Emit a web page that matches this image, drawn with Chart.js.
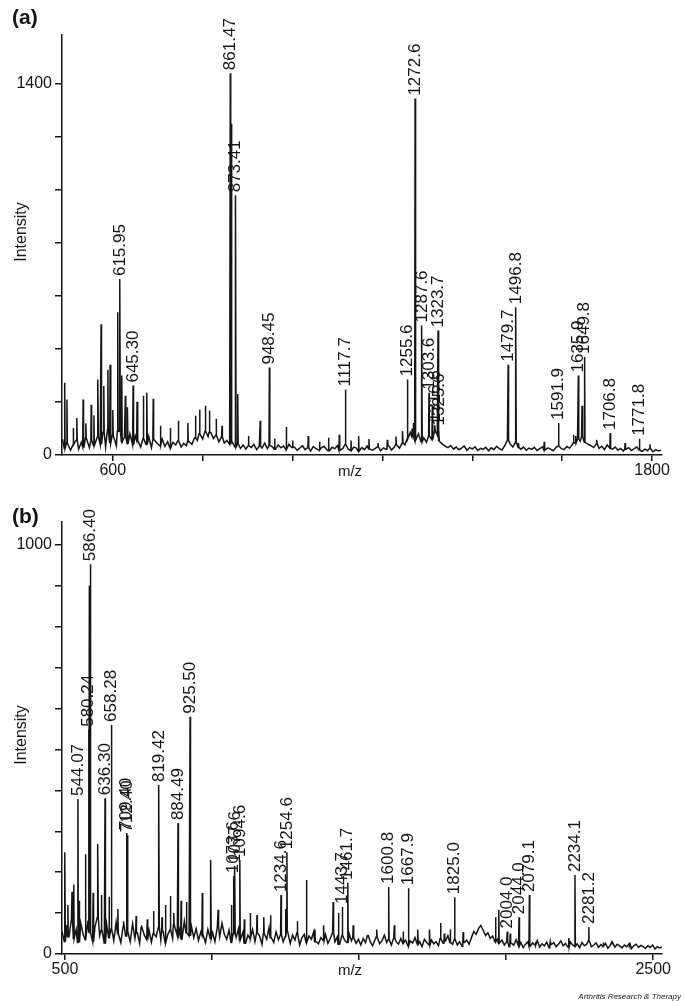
<!DOCTYPE html>
<html>
<head>
<meta charset="utf-8">
<script src="https://cdn.jsdelivr.net/npm/chart.js@4.4.1/dist/chart.umd.min.js"></script>
<style>
  body { margin: 0; background: #fff; }
  canvas { display: block; }
</style>
</head>
<body>
<canvas id="chartA" width="685" height="490"></canvas>
<canvas id="chartB" width="685" height="512"></canvas>
<script>
const FONT = '"Liberation Sans", Arial, sans-serif';
const INK = '#151515';

// ---- panel (a) ----
const noiseStartA = 488, noiseStepA = 6;
const noiseA = [
  60, 25, 45, 18, 38, 55, 22, 48, 30, 65, 28, 52, 35,
  70, 40, 85, 30, 95, 45, 75, 35, 90, 50, 68, 42, 80, 38, 72,
  55, 30, 62, 40, 70, 28, 58, 45, 36, 60, 32, 50, 26, 48, 38, 55, 30, 44, 35,
  50, 40, 65, 55, 80, 60, 90, 70, 85, 62, 75, 50, 68, 45, 55, 40,
  48, 30, 42, 25, 38, 22, 35, 28, 40, 20, 33, 26, 45, 24, 36, 30, 22, 38, 27, 34, 21, 40, 28,
  30, 18, 26, 35, 20, 28, 15, 32, 24, 19,
  27, 33, 21, 16, 29, 24, 36, 18, 25, 40,
  22, 17, 30, 26, 14, 28, 20, 34, 23, 18,
  25, 31, 16, 27, 22, 35, 19, 29, 40, 26,
  45, 38, 60, 85, 70, 55, 80, 50, 65, 48,
  72, 58, 90, 75, 52, 40, 33, 28, 36, 22,
  30, 20, 26, 34, 18, 28, 23, 31, 17, 25,
  21, 29, 16, 27, 20, 33, 24, 19, 35, 55,
  42, 30, 48, 28, 22, 30, 18, 26, 21, 29,
  17, 24, 31, 19, 27, 22, 16, 28, 35, 24,
  20, 32, 26, 38, 45, 60, 52, 70, 48, 40,
  35, 28, 42, 25, 33, 20, 38, 26, 22, 30,
  18, 25, 15, 22, 28, 17, 24, 30, 19, 14,
  22, 16, 25, 12, 20, 15, 18
];
const peakMzA = [493, 498, 512, 520, 534, 540, 552, 558, 567, 574, 580, 589, 594, 600, 611, 620, 628, 633, 654, 668, 676, 690, 706, 728, 746, 767, 784, 793, 806, 815, 830, 843, 864, 878, 902, 928, 960, 986, 1000, 1035, 1060, 1080, 1104, 1130, 1147, 1170, 1190, 1211, 1230, 1245, 1266, 1269, 1311, 1503, 1560, 1625, 1630, 1644, 1677, 1740, 1795];
const peakIntA = [273, 209, 102, 140, 209, 120, 190, 150, 285, 493, 260, 322, 341, 170, 539, 300, 224, 180, 201, 224, 235, 212, 110, 102, 129, 121, 148, 171, 186, 167, 137, 110, 1250, 230, 72, 129, 62, 106, 55, 72, 50, 65, 76, 55, 72, 60, 45, 57, 70, 90, 100, 121, 186, 45, 50, 76, 72, 186, 57, 45, 40];
const labelTextA = ['615.95', '645.30', '861.47', '873.41', '948.45', '1117.7', '1255.6', '1272.6', '1287.6', '1303.6', '1316.6', '1325.6', '1323.7', '1479.7', '1496.8', '1591.9', '1635.9', '1649.8', '1706.8', '1771.8'];
const labelIntA = [664, 262, 1441, 980, 330, 247, 285, 1345, 489, 235, 112, 100, 470, 341, 558, 121, 300, 370, 83, 61];
const xTicksA = [600, 800, 1000, 1200, 1400, 1600, 1800];
const yTicksA = [0, 200, 400, 600, 800, 1000, 1200, 1400];

// ---- panel (b) ----
const noiseStartB = 490, noiseStepB = 8;
const noiseB = [
  55, 30, 70, 42, 85, 38, 60, 28, 75, 48,
  35, 80, 52, 30, 66, 90, 45, 58, 25, 72,
  40, 62, 33, 78, 50, 28, 68, 44, 56, 30,
  74, 38, 52, 26, 64, 46, 35, 58, 29, 50,
  42, 66, 34, 55, 27, 48, 60, 38, 72, 45,
  58, 36, 80, 52, 44, 68, 40, 62, 33, 54,
  46, 28, 60, 38,
  52, 30, 66, 42, 75, 48, 36, 58, 28, 50,
  40, 62, 34, 55, 26, 46, 38, 60, 30, 52,
  44, 24, 50, 36, 65, 40, 28, 54, 35, 48,
  30, 42, 58, 26, 46, 34, 52, 22, 40, 48,
  28, 44, 36, 55, 30, 25, 40, 33, 48, 26,
  38, 52, 30, 42, 24, 46, 35, 28, 50, 32,
  40, 26, 36,
  22, 38, 28, 45, 30, 20, 35, 42, 25, 32,
  46, 28, 36, 22, 40, 30, 24, 38, 26, 34,
  20, 32, 27, 40, 24, 30, 18, 36, 28, 22,
  34, 25, 30, 20, 38, 26, 32, 45, 28, 24,
  36, 22, 30, 19, 28, 34, 24, 40, 55, 48,
  62, 70, 58, 45, 52, 38, 44, 30, 36, 26,
  34, 22,
  30, 18, 26, 22, 35, 20, 28, 16, 24, 30,
  19, 27, 22, 33, 17, 25, 20, 29, 15, 23,
  28, 18, 24, 32, 20, 26, 17, 30, 22, 19,
  25, 15, 28, 20, 24, 33, 18, 22, 27, 16,
  23, 19, 26, 14, 21, 28, 17, 24, 20, 15,
  22, 18, 25, 13, 20, 24, 16, 21, 18, 14,
  20, 16, 22, 12, 18, 15, 17
];
const peakMzB = [500, 510, 524, 530, 548, 570, 583, 596, 612, 624, 650, 680, 700, 742, 760, 780, 801, 830, 842, 859, 870, 895, 913, 967, 996, 1021, 1066, 1110, 1130, 1153, 1176, 1199, 1250, 1290, 1321, 1350, 1380, 1412, 1430, 1480, 1530, 1560, 1620, 1650, 1700, 1740, 1777, 1790, 1810, 1854, 1964, 1975, 2014, 2100, 2150, 2213, 2330, 2360, 2420];
const peakIntB = [249, 120, 152, 170, 130, 244, 900, 150, 269, 144, 140, 110, 80, 93, 70, 85, 105, 90, 120, 142, 100, 130, 127, 149, 230, 108, 120, 85, 100, 95, 90, 95, 110, 80, 181, 60, 70, 127, 100, 70, 45, 60, 70, 55, 60, 60, 76, 50, 60, 54, 90, 108, 50, 30, 30, 39, 28, 25, 22];
const labelTextB = ['544.07', '580.24', '586.40', '636.30', '658.28', '709.40', '712.40', '819.42', '884.49', '925.50', '1073.6', '1077.6', '1094.6', '1234.6', '1254.6', '1443.7', '1461.7', '1600.8', '1667.9', '1825.0', '2004.0', '2044.0', '2079.1', '2234.1', '2281.2'];
const labelIntB = [379, 548, 953, 381, 560, 296, 290, 413, 320, 580, 190, 215, 230, 144, 249, 115, 174, 164, 161, 139, 55, 90, 144, 193, 66];
const xTicksB = [500, 1000, 1500, 2000, 2500];
const yTicksB = [0, 100, 200, 300, 400, 500, 600, 700, 800, 900, 1000];

// noise trace plus one thin stick for every peak, sorted along m/z
function buildSpectrum(start, step, noise, mzs, ints, labelTexts, labelInts, half) {
  const pts = noise.map((v, i) => ({x: start + i * step, y: v}));
  const base = mz => noise[Math.max(0, Math.min(noise.length - 1, Math.round((mz - start) / step)))];
  const addPeak = (mz, h) => {
    pts.push({x: mz - half, y: base(mz)}, {x: mz, y: h}, {x: mz + half, y: base(mz)});
  };
  mzs.forEach((mz, i) => addPeak(mz, ints[i]));
  labelTexts.forEach((t, i) => addPeak(parseFloat(t), labelInts[i]));
  return pts.sort((a, b) => a.x - b.x);
}

const peakLabels = {
  id: 'peakLabels',
  afterDatasetsDraw(chart, args, opts) {
    const {ctx, scales: {x, y}, chartArea} = chart;
    ctx.save();
    ctx.fillStyle = INK;
    ctx.font = '17px ' + FONT;
    ctx.textAlign = 'left';
    ctx.textBaseline = 'middle';
    opts.texts.forEach((t, i) => {
      const px = x.getPixelForValue(parseFloat(t));
      const py = y.getPixelForValue(opts.heights[i]) - 3;
      ctx.save();
      ctx.translate(px, py);
      ctx.rotate(-Math.PI / 2);
      ctx.fillText(t, 0, 0);
      ctx.restore();
    });
    // panel tag
    ctx.font = 'bold 21px ' + FONT;
    ctx.fillText(opts.tag, 12, opts.tagY);
    // axis titles
    ctx.font = '16px ' + FONT;
    ctx.textAlign = 'center';
    ctx.save();
    ctx.translate(22, opts.yTitleY);
    ctx.rotate(-Math.PI / 2);
    ctx.fillText('Intensity', 0, 0);
    ctx.restore();
    ctx.font = '15px ' + FONT;
    ctx.fillText('m/z', (chartArea.left + chartArea.right) / 2 - 12, chartArea.bottom + 17);
    if (opts.credit) {
      ctx.font = 'italic 8px ' + FONT;
      ctx.textAlign = 'right';
      ctx.fillText(opts.credit, 681, chart.height - 5);
    }
    ctx.restore();
  }
};

function makeScales(xMin, xMax, xTicks, yMax, yTicks, xHeight) {
  const tickFont = {family: FONT, size: 16};
  const ends = (list) => (v) => (v === list[0] || v === list[list.length - 1]) ? String(v) : '';
  return {
    x: {
      type: 'linear', min: xMin, max: xMax,
      afterBuildTicks: s => { s.ticks = xTicks.map(v => ({value: v})); },
      afterFit: s => { s.height = xHeight; },
      ticks: {callback: ends(xTicks), font: tickFont, color: INK, padding: 0, maxRotation: 0, autoSkip: false},
      grid: {drawOnChartArea: false, drawTicks: true, tickLength: 6, color: INK, lineWidth: 1.5},
      border: {color: INK, width: 1.5}
    },
    y: {
      type: 'linear', min: 0, max: yMax,
      afterBuildTicks: s => { s.ticks = yTicks.map(v => ({value: v})); },
      afterFit: s => { s.width = 62; },
      ticks: {callback: ends(yTicks), font: tickFont, color: INK, padding: 3, autoSkip: false},
      grid: {drawOnChartArea: false, drawTicks: true, tickLength: 7, color: INK, lineWidth: 1.5},
      border: {color: INK, width: 1.5}
    }
  };
}

function createChart(id, points, scales, padTop, labelOpts) {
  return new Chart(document.getElementById(id), {
    type: 'line',
    data: {
      datasets: [{
        data: points,
        borderColor: INK,
        borderWidth: 1.5,
        pointRadius: 0,
        tension: 0
      }]
    },
    options: {
      responsive: false,
      animation: false,
      devicePixelRatio: 1,
      layout: {padding: {top: padTop, right: 23, left: 0, bottom: 0}},
      scales: scales,
      plugins: {
        legend: {display: false},
        tooltip: {enabled: false},
        peakLabels: labelOpts
      }
    },
    plugins: [peakLabels]
  });
}

createChart('chartA',
  buildSpectrum(noiseStartA, noiseStepA, noiseA, peakMzA, peakIntA, labelTextA, labelIntA, 0.9),
  makeScales(487, 1822, xTicksA, 1585, yTicksA, 35), 35,
  {texts: labelTextA, heights: labelIntA, tag: '(a)', tagY: 18, yTitleY: 232});

createChart('chartB',
  buildSpectrum(noiseStartB, noiseStepB, noiseB, peakMzB, peakIntB, labelTextB, labelIntB, 1.4),
  makeScales(490, 2530, xTicksB, 1056, yTicksB, 48), 32,
  {texts: labelTextB, heights: labelIntB, tag: '(b)', tagY: 27, yTitleY: 245, credit: 'Arthritis Research & Therapy'});
</script>
</body>
</html>
